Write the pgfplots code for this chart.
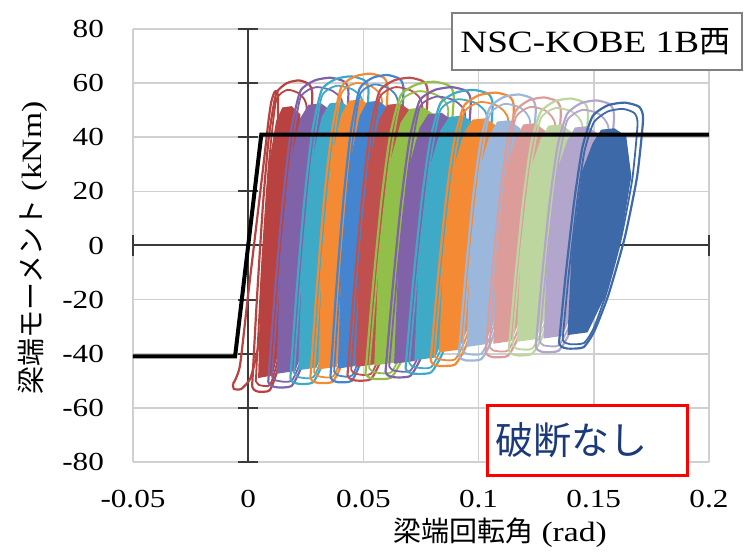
\documentclass[border=0pt]{standalone}
\usepackage{fontspec}
\setmainfont{Liberation Serif}[FakeStretch=1.2]
\newfontfamily\jp{Noto Sans CJK JP}
\usepackage{pgfplots}
\pgfplotsset{compat=1.18}
\definecolor{cRedA}{HTML}{B8423F}
\definecolor{cRed}{HTML}{C0504D}
\definecolor{cPurple}{HTML}{7F62A8}
\definecolor{cTeal}{HTML}{3FAAC8}
\definecolor{cOrange}{HTML}{F58A35}
\definecolor{cBlue}{HTML}{4585CF}
\definecolor{cGreen}{HTML}{92BF4A}
\definecolor{cLBlue}{HTML}{9BB7DC}
\definecolor{cPink}{HTML}{DC9C9A}
\definecolor{cLGreen}{HTML}{BDD6A0}
\definecolor{cLav}{HTML}{B3A6CC}
\definecolor{cDBlue}{HTML}{3D69A8}
\definecolor{gridc}{HTML}{D0D0D0}
\definecolor{navy}{HTML}{1B3A7A}
\definecolor{axc}{HTML}{3A3A3A}
\begin{document}
\begin{tikzpicture}
\begin{axis}[
  at={(0pt,0pt)}, anchor=south west,
  scale only axis, width=288pt, height=216.5pt,
  xmin=-0.05, xmax=0.2, ymin=-80, ymax=80,
  xtick={-0.05,0,0.05,0.1,0.15,0.2},
  xticklabels={-0.05,0,0.05,0.1,0.15,0.2},
  ytick={-80,-60,-40,-20,0,20,40,60,80},
  yticklabels={-80,-60,-40,-20,0,20,40,60,80},
  grid=major, major grid style={draw=gridc, line width=0.8pt},
  axis line style={draw=none}, major tick length=0pt,
  tick label style={font=\fontsize{13}{15}\selectfont, text=black},
  xticklabel style={yshift=-10.5pt},
  yticklabel style={xshift=-11pt},
  clip=false,
  outer/.style={line width=1.1pt, smooth, tension=0.35},
  inner/.style={line width=0.9pt, smooth, tension=0.35},
]
% axes through zero
\draw[axc, line width=1pt] (axis cs:0,-80) -- (axis cs:0,80);
\draw[axc, line width=1pt] (axis cs:-0.05,0) -- (axis cs:0.2,0);
\draw[axc, line width=1pt] (axis cs:-0.0044,80) -- (axis cs:0.0044,80);
\draw[axc, line width=1pt] (axis cs:-0.0044,60) -- (axis cs:0.0044,60);
\draw[axc, line width=1pt] (axis cs:-0.0044,40) -- (axis cs:0.0044,40);
\draw[axc, line width=1pt] (axis cs:-0.0044,20) -- (axis cs:0.0044,20);
\draw[axc, line width=1pt] (axis cs:-0.0044,-20) -- (axis cs:0.0044,-20);
\draw[axc, line width=1pt] (axis cs:-0.0044,-40) -- (axis cs:0.0044,-40);
\draw[axc, line width=1pt] (axis cs:-0.0044,-60) -- (axis cs:0.0044,-60);
\draw[axc, line width=1pt] (axis cs:-0.0044,-80) -- (axis cs:0.0044,-80);
\draw[axc, line width=1pt] (axis cs:-0.05,-3.7) -- (axis cs:-0.05,3.7);
\draw[axc, line width=1pt] (axis cs:0.05,-3.7) -- (axis cs:0.05,3.7);
\draw[axc, line width=1pt] (axis cs:0.1,-3.7) -- (axis cs:0.1,3.7);
\draw[axc, line width=1pt] (axis cs:0.15,-3.7) -- (axis cs:0.15,3.7);
\draw[axc, line width=1pt] (axis cs:0.2,-3.7) -- (axis cs:0.2,3.7);

% g0 red (first cycles)
\addplot[cRedA, outer] coordinates {(-0.0066,-51) (-0.0058,-50) (-0.0035,-44) (0.0000,-18) (0.0025,0) (0.0050,18) (0.0072,34) (0.0088,46) (0.0100,53) (0.0113,56.5) (0.0122,57) (0.0130,54) (0.0124,30) (0.0106,8) (0.0078,-17) (0.0042,-38) (0.0010,-49) (-0.0030,-53) (-0.0062,-53) (-0.0066,-51)};
% g1 red
\addplot[fill=cRedA, draw=none] coordinates {(0.0043,-49) (0.0056,-8) (0.0087,28.8) (0.0121,46) (0.0148,51) (0.0189,51.5) (0.0226,48.5) (0.0241,26.5) (0.0210,-2.25) (0.0163,-28.7) (0.0106,-48)};
\addplot[cRedA, inner] coordinates {(0.0033,-50) (0.0060,-7.9) (0.0090,30.3) (0.0121,53.5) (0.0170,57.5) (0.0223,56) (0.0254,50.5) (0.0232,19.3) (0.0188,-10.1) (0.0132,-40.6) (0.0095,-51.5) (0.0046,-51.5) (0.0033,-50)};
\addplot[cRedA, outer] coordinates {(0.0017,-52) (0.0038,-19.5) (0.0064,15) (0.0090,40.3) (0.0121,56) (0.0168,60) (0.0221,61) (0.0265,59.5) (0.0278,55) (0.0260,26.5) (0.0221,-2.25) (0.0171,-28.7) (0.0127,-46) (0.0093,-53.5) (0.0043,-54) (0.0024,-53.2) (0.0017,-52)};
% g2 purple
\addplot[fill=cPurple, draw=none] coordinates {(0.0122,-47.4) (0.0139,-6.6) (0.0181,30.0) (0.0226,47) (0.0261,52) (0.0317,52.5) (0.0365,49.5) (0.0386,27.7) (0.0345,-0.9) (0.0282,-27.2) (0.0205,-46.4)};
\addplot[cPurple, inner] coordinates {(0.0103,-48.4) (0.0140,-6.5) (0.0183,31.4) (0.0226,54.5) (0.0294,58.5) (0.0368,57) (0.0411,51.5) (0.0380,20.6) (0.0319,-8.7) (0.0242,-39.1) (0.0189,-49.9) (0.0121,-49.9) (0.0103,-48.4)};
\addplot[cPurple, outer] coordinates {(0.0087,-50.4) (0.0115,-18.1) (0.0150,16.2) (0.0184,41.4) (0.0226,57) (0.0289,61) (0.0358,62) (0.0418,60.5) (0.0435,56) (0.0411,27.7) (0.0358,-0.9) (0.0292,-27.2) (0.0233,-44.4) (0.0188,-51.9) (0.0122,-52.4) (0.0096,-51.6) (0.0087,-50.4)};
% g3 teal
\addplot[fill=cTeal, draw=none] coordinates {(0.0217,-46.1) (0.0234,-5.7) (0.0275,30.7) (0.0319,47.5) (0.0353,52.5) (0.0407,53) (0.0454,50) (0.0475,28.4) (0.0434,0) (0.0373,-26.1) (0.0298,-45.1)};
\addplot[cTeal, inner] coordinates {(0.0199,-47.1) (0.0235,-5.6) (0.0277,32.1) (0.0319,55) (0.0384,59) (0.0456,57.5) (0.0498,52) (0.0468,21.3) (0.0408,-7.7) (0.0334,-37.8) (0.0283,-48.6) (0.0217,-48.6) (0.0199,-47.1)};
\addplot[cTeal, outer] coordinates {(0.0183,-49.1) (0.0210,-17.0) (0.0244,17.1) (0.0278,42.1) (0.0319,57.5) (0.0380,61.5) (0.0447,62.5) (0.0505,61) (0.0522,56.5) (0.0498,28.4) (0.0447,0) (0.0383,-26.1) (0.0325,-43.1) (0.0281,-50.6) (0.0217,-51.1) (0.0191,-50.3) (0.0183,-49.1)};
% g4 orange
\addplot[fill=cOrange, draw=none] coordinates {(0.0304,-45.8) (0.0320,-5.1) (0.0360,31.5) (0.0404,48.5) (0.0438,53.5) (0.0491,54) (0.0538,51) (0.0558,29.2) (0.0518,0.6) (0.0458,-25.7) (0.0384,-44.8)};
\addplot[cOrange, inner] coordinates {(0.0286,-46.8) (0.0321,-5.0) (0.0363,32.9) (0.0404,56) (0.0469,60) (0.0540,58.5) (0.0581,53) (0.0552,22.1) (0.0493,-7.1) (0.0419,-37.5) (0.0369,-48.3) (0.0304,-48.3) (0.0286,-46.8)};
\addplot[cOrange, outer] coordinates {(0.0270,-48.8) (0.0297,-16.5) (0.0330,17.8) (0.0364,42.9) (0.0404,58.5) (0.0464,62.5) (0.0531,63.5) (0.0588,62) (0.0605,57.5) (0.0582,29.2) (0.0531,0.6) (0.0468,-25.7) (0.0411,-42.8) (0.0367,-50.3) (0.0304,-50.8) (0.0278,-50.0) (0.0270,-48.8)};
% g5 blue
\addplot[fill=cBlue, draw=none] coordinates {(0.0389,-45.5) (0.0405,-5.1) (0.0443,31.2) (0.0484,48) (0.0516,53) (0.0566,53.5) (0.0611,50.5) (0.0630,28.9) (0.0592,0.6) (0.0535,-25.5) (0.0465,-44.5)};
\addplot[cBlue, inner] coordinates {(0.0373,-46.5) (0.0406,-5) (0.0445,32.6) (0.0484,55.5) (0.0545,59.5) (0.0611,58) (0.0650,52.5) (0.0622,21.9) (0.0567,-7.2) (0.0498,-37.3) (0.0451,-48) (0.0390,-48) (0.0373,-46.5)};
\addplot[cBlue, outer] coordinates {(0.0357,-48.5) (0.0382,-16.4) (0.0414,17.6) (0.0446,42.6) (0.0484,58) (0.0541,62) (0.0604,63) (0.0658,61.5) (0.0674,57) (0.0652,28.9) (0.0604,0.6) (0.0544,-25.5) (0.0490,-42.6) (0.0449,-50) (0.0389,-50.5) (0.0365,-49.7) (0.0357,-48.5)};
% g6 red
\addplot[fill=cRed, draw=none] coordinates {(0.0466,-44.9) (0.0483,-5.1) (0.0525,30.7) (0.0570,47) (0.0605,52) (0.0661,52.5) (0.0709,49.5) (0.0730,28.4) (0.0689,0.5) (0.0626,-25.3) (0.0549,-43.9)};
\addplot[cRed, inner] coordinates {(0.0447,-45.9) (0.0484,-5.0) (0.0527,32.0) (0.0570,54.5) (0.0638,58.5) (0.0712,57) (0.0755,51.5) (0.0724,21.4) (0.0663,-7.2) (0.0586,-36.8) (0.0533,-47.4) (0.0465,-47.4) (0.0447,-45.9)};
\addplot[cRed, outer] coordinates {(0.0431,-47.9) (0.0459,-16.3) (0.0494,17.2) (0.0528,41.9) (0.0570,57) (0.0633,61) (0.0702,62) (0.0762,60.5) (0.0779,56) (0.0755,28.4) (0.0702,0.5) (0.0636,-25.3) (0.0577,-42.1) (0.0532,-49.4) (0.0466,-49.9) (0.0440,-49.1) (0.0431,-47.9)};
% g7 green
\addplot[fill=cGreen, draw=none] coordinates {(0.0547,-44.3) (0.0566,-5.4) (0.0612,29.8) (0.0662,45.5) (0.0701,50.5) (0.0762,51) (0.0815,48) (0.0838,27.6) (0.0792,0.1) (0.0723,-25.1) (0.0639,-43.3)};
\addplot[cGreen, inner] coordinates {(0.0525,-45.3) (0.0566,-5.3) (0.0614,31.1) (0.0662,53) (0.0738,57) (0.0820,55.5) (0.0868,50) (0.0834,20.7) (0.0765,-7.4) (0.0679,-36.4) (0.0621,-46.8) (0.0546,-46.8) (0.0525,-45.3)};
\addplot[cGreen, outer] coordinates {(0.0509,-47.3) (0.0540,-16.4) (0.0578,16.6) (0.0616,40.7) (0.0662,55.5) (0.0731,59.5) (0.0808,60.5) (0.0873,59) (0.0892,54.5) (0.0865,27.6) (0.0808,0.1) (0.0735,-25.1) (0.0670,-41.6) (0.0620,-48.8) (0.0547,-49.3) (0.0519,-48.5) (0.0509,-47.3)};
% g8 purple
\addplot[fill=cPurple, draw=none] coordinates {(0.0633,-43.7) (0.0652,-5.8) (0.0696,28.5) (0.0744,43.5) (0.0781,48.5) (0.0840,49) (0.0892,46) (0.0914,26.3) (0.0870,-0.5) (0.0803,-25.1) (0.0722,-42.7)};
\addplot[cPurple, inner] coordinates {(0.0612,-44.7) (0.0652,-5.7) (0.0698,29.7) (0.0744,51) (0.0817,55) (0.0896,53.5) (0.0942,48) (0.0909,19.6) (0.0843,-7.7) (0.0761,-36.1) (0.0704,-46.2) (0.0632,-46.2) (0.0612,-44.7)};
\addplot[cPurple, outer] coordinates {(0.0596,-46.7) (0.0626,-16.5) (0.0663,15.6) (0.0700,39.2) (0.0744,53.5) (0.0811,57.5) (0.0885,58.5) (0.0948,57) (0.0966,52.5) (0.0940,26.3) (0.0885,-0.5) (0.0814,-25.1) (0.0751,-41.2) (0.0703,-48.2) (0.0633,-48.7) (0.0605,-47.9) (0.0596,-46.7)};
% g9 teal
\addplot[fill=cTeal, draw=none] coordinates {(0.0721,-42.4) (0.0740,-5.4) (0.0785,28.1) (0.0834,42.5) (0.0872,47.5) (0.0932,48) (0.0985,45) (0.1008,26.0) (0.0963,-0.2) (0.0895,-24.3) (0.0812,-41.4)};
\addplot[cTeal, inner] coordinates {(0.0699,-43.4) (0.0740,-5.3) (0.0787,29.3) (0.0834,50) (0.0909,54) (0.0990,52.5) (0.1037,47) (0.1003,19.4) (0.0936,-7.3) (0.0851,-35) (0.0794,-44.9) (0.0719,-44.9) (0.0699,-43.4)};
\addplot[cTeal, outer] coordinates {(0.0683,-45.4) (0.0713,-15.9) (0.0751,15.5) (0.0789,38.6) (0.0834,52.5) (0.0902,56.5) (0.0978,57.5) (0.1042,56) (0.1061,51.5) (0.1035,26.0) (0.0978,-0.2) (0.0906,-24.3) (0.0842,-40.1) (0.0793,-46.9) (0.0721,-47.4) (0.0692,-46.6) (0.0683,-45.4)};
% g10 orange
\addplot[fill=cOrange, draw=none] coordinates {(0.0828,-39.5) (0.0846,-4.1) (0.0889,28.2) (0.0936,41.5) (0.0973,46.5) (0.1030,47) (0.1081,44) (0.1102,26.2) (0.1059,0.9) (0.0994,-22.3) (0.0915,-38.5)};
\addplot[cOrange, inner] coordinates {(0.0808,-40.5) (0.0847,-4) (0.0891,29.3) (0.0936,49) (0.1007,53) (0.1084,51.5) (0.1129,46) (0.1097,19.8) (0.1033,-5.9) (0.0952,-32.5) (0.0898,-42) (0.0827,-42) (0.0808,-40.5)};
\addplot[cOrange, outer] coordinates {(0.0792,-42.5) (0.0821,-14.2) (0.0857,16.1) (0.0893,38.3) (0.0936,51.5) (0.1001,55.5) (0.1074,56.5) (0.1135,55) (0.1153,50.5) (0.1128,26.2) (0.1074,0.9) (0.1005,-22.3) (0.0944,-37.4) (0.0897,-44) (0.0828,-44.5) (0.0801,-43.7) (0.0792,-42.5)};
% g11 light blue
\addplot[fill=cLBlue, draw=none] coordinates {(0.0947,-37.5) (0.0964,-3.2) (0.1004,28.3) (0.1048,40.8) (0.1081,45.8) (0.1134,46.3) (0.1181,43.3) (0.1201,26.3) (0.1161,1.7) (0.1101,-20.9) (0.1028,-36.5)};
\addplot[cLBlue, inner] coordinates {(0.0930,-38.5) (0.0965,-3.1) (0.1006,29.2) (0.1048,48.3) (0.1112,52.3) (0.1183,50.8) (0.1224,45.3) (0.1195,20) (0.1136,-4.9) (0.1062,-30.8) (0.1012,-40) (0.0948,-40) (0.0930,-38.5)};
\addplot[cLBlue, outer] coordinates {(0.0914,-40.5) (0.0941,-13.0) (0.0974,16.5) (0.1008,38.1) (0.1048,50.8) (0.1108,54.8) (0.1175,55.8) (0.1231,54.3) (0.1248,49.8) (0.1225,26.3) (0.1175,1.7) (0.1111,-20.9) (0.1054,-35.6) (0.1011,-42) (0.0947,-42.5) (0.0922,-41.7) (0.0914,-40.5)};
% g12 pink
\addplot[fill=cPink, draw=none] coordinates {(0.1064,-36.3) (0.1080,-2.9) (0.1119,27.8) (0.1161,39.7) (0.1194,44.7) (0.1246,45.2) (0.1292,42.2) (0.1311,25.9) (0.1272,1.9) (0.1214,-20.2) (0.1142,-35.3)};
\addplot[cPink, inner] coordinates {(0.1047,-37.3) (0.1081,-2.8) (0.1121,28.7) (0.1161,47.2) (0.1224,51.2) (0.1293,49.7) (0.1333,44.2) (0.1304,19.7) (0.1247,-4.6) (0.1176,-29.8) (0.1127,-38.8) (0.1064,-38.8) (0.1047,-37.3)};
\addplot[cPink, outer] coordinates {(0.1031,-39.3) (0.1057,-12.5) (0.1090,16.3) (0.1122,37.4) (0.1161,49.7) (0.1220,53.7) (0.1285,54.7) (0.1341,53.2) (0.1357,48.7) (0.1334,25.9) (0.1285,1.9) (0.1223,-20.2) (0.1168,-34.6) (0.1126,-40.8) (0.1064,-41.3) (0.1039,-40.5) (0.1031,-39.3)};
% g13 light green
\addplot[fill=cLGreen, draw=none] coordinates {(0.1165,-35.6) (0.1183,-2.6) (0.1224,27.7) (0.1269,39.3) (0.1303,44.3) (0.1358,44.8) (0.1406,41.8) (0.1427,25.8) (0.1386,2.1) (0.1324,-19.7) (0.1248,-34.6)};
\addplot[cLGreen, inner] coordinates {(0.1147,-36.6) (0.1183,-2.5) (0.1226,28.6) (0.1269,46.8) (0.1335,50.8) (0.1408,49.3) (0.1451,43.8) (0.1421,19.7) (0.1360,-4.3) (0.1284,-29.2) (0.1232,-38.1) (0.1165,-38.1) (0.1147,-36.6)};
\addplot[cLGreen, outer] coordinates {(0.1131,-38.6) (0.1159,-12.1) (0.1193,16.3) (0.1227,37.2) (0.1269,49.3) (0.1331,53.3) (0.1399,54.3) (0.1458,52.8) (0.1475,48.3) (0.1451,25.8) (0.1399,2.1) (0.1334,-19.7) (0.1275,-34) (0.1231,-40.1) (0.1165,-40.6) (0.1140,-39.8) (0.1131,-38.6)};
% g14 lavender
\addplot[fill=cLav, draw=none] coordinates {(0.1282,-34.4) (0.1299,-2.2) (0.1340,27.6) (0.1384,38.6) (0.1418,43.6) (0.1472,44.1) (0.1520,41.1) (0.1540,25.7) (0.1500,2.4) (0.1438,-18.9) (0.1364,-33.4)};
\addplot[cLav, inner] coordinates {(0.1264,-35.4) (0.1300,-2.1) (0.1342,28.4) (0.1384,46.1) (0.1450,50.1) (0.1522,48.6) (0.1564,43.1) (0.1534,19.6) (0.1474,-3.8) (0.1399,-28.2) (0.1348,-36.9) (0.1282,-36.9) (0.1264,-35.4)};
\addplot[cLav, outer] coordinates {(0.1248,-37.4) (0.1275,-11.5) (0.1309,16.4) (0.1343,36.9) (0.1384,48.6) (0.1445,52.6) (0.1513,53.6) (0.1571,52.1) (0.1588,47.6) (0.1564,25.7) (0.1513,2.4) (0.1449,-18.9) (0.1391,-32.9) (0.1347,-38.9) (0.1282,-39.4) (0.1257,-38.6) (0.1248,-37.4)};
% g15 dark blue
\addplot[fill=cDBlue, draw=none] coordinates {(0.1386,-33.1) (0.1404,-1.7) (0.1448,27.3) (0.1495,37.8) (0.1532,42.8) (0.1590,43.3) (0.1641,40.3) (0.1663,25.5) (0.1619,2.8) (0.1553,-18.1) (0.1473,-32.1)};
\addplot[cDBlue, inner] coordinates {(0.1365,-34.5) (0.1392,-10) (0.1427,16) (0.1460,35) (0.1500,45.5) (0.1560,49.5) (0.1625,50.5) (0.1675,49) (0.1690,45) (0.1667,24.5) (0.1618,2.5) (0.1555,-17.5) (0.1500,-30.5) (0.1458,-36) (0.1398,-36.5) (0.1372,-35.7) (0.1365,-34.5)};
\addplot[cDBlue, outer] coordinates {(0.1349,-36.1) (0.1378,-10.8) (0.1415,16.4) (0.1451,36.4) (0.1495,47.8) (0.1561,51.8) (0.1634,52.8) (0.1696,51.3) (0.1714,46.8) (0.1688,25.5) (0.1634,2.8) (0.1564,-18.1) (0.1502,-31.7) (0.1455,-37.6) (0.1386,-38.1) (0.1358,-37.3) (0.1349,-36.1)};
% bilinear skeleton
\addplot[black, line width=2pt] coordinates {(-0.05,-41) (-0.0057,-41) (0.0057,41) (0.2,41)};
\end{axis}
% title box
\draw[gray, line width=1pt, fill=white] (159.5pt,196pt) rectangle (304.5pt,224.5pt);
\node[anchor=west, inner sep=0pt, font=\fontsize{15.5}{18}\selectfont] at (163.5pt,210pt) {NSC-KOBE 1B{\jp 西}};
% annotation box
\draw[red, line width=1.5pt, fill=white] (177pt,-6.5pt) rectangle (277pt,28.5pt);
\node[anchor=west, inner sep=0pt, text=navy, font=\jp\fontsize{19}{22}\selectfont] at (181pt,11pt) {破断なし};
% axis labels
\node[font=\fontsize{14}{16}\selectfont] at (183.5pt,-35.5pt) {{\jp 梁端回転角} (rad)};
\node[rotate=90, font=\fontsize{14}{16}\selectfont] at (-50pt,107pt) {{\jp 梁端モーメント} (kNm)};
\path (-66.5pt,-43.5pt) rectangle (306pt,231pt);
\end{tikzpicture}
\end{document}
